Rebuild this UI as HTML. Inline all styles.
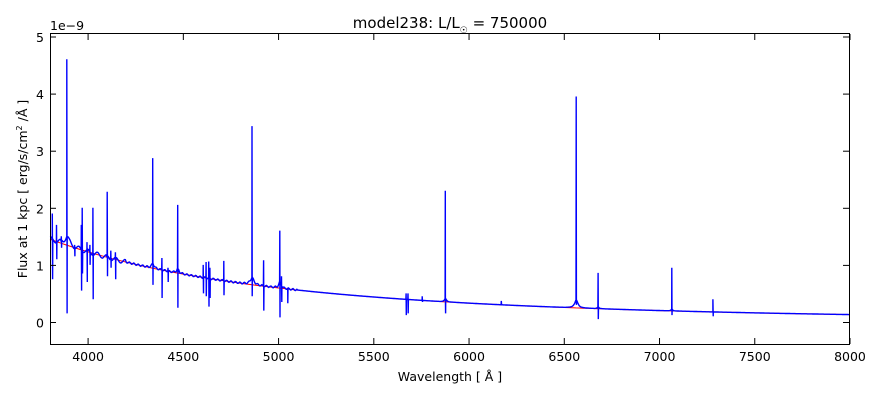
<!DOCTYPE html>
<html><head><meta charset="utf-8"><style>
body{margin:0;background:#fff;}
svg{display:block;font-family:"DejaVu Sans","Liberation Sans",sans-serif;}
</style></head><body>
<svg id="s" width="880" height="400" viewBox="0 0 880 400">
<rect width="880" height="400" fill="#fff"/>
<path id="red" fill="none" stroke="#ff0000" stroke-width="1"/>
<path id="blue" fill="none" stroke="#0000ff" stroke-width="1.4" stroke-linejoin="miter" stroke-miterlimit="2"/>
<rect x="50.5" y="33.5" width="799" height="311" fill="none" stroke="#000" stroke-width="1"/>
<g id="ticks" stroke="#000" stroke-width="1"></g>
<g font-size="12.5" fill="#000" id="labs"></g>
<text x="50" y="30" font-size="12.5">1e−9</text>
<text x="450" y="28" font-size="15" text-anchor="middle">model238: L/L<tspan font-size="9" dy="5">☉</tspan><tspan dy="-5"> = 750000</tspan></text>
<text x="450" y="381" font-size="12.5" text-anchor="middle">Wavelength [ Å ]</text>
<text transform="translate(27,189) rotate(-90)" font-size="12.5" text-anchor="middle">Flux at 1 kpc [ erg/s/cm<tspan font-size="8" dy="-5">2</tspan><tspan dy="5"> /Å ]</tspan></text>
</svg>
<script>
var X=l=>50+(l-3800)*0.190476, Y=f=>322-57.1*f;
function cont(l){return 1.45*Math.pow(3800/l,3.24)}
var ns="http://www.w3.org/2000/svg";
var tk=document.getElementById('ticks'),lb=document.getElementById('labs');
function line(a,b,c,d){var e=document.createElementNS(ns,'line');e.setAttribute('x1',a);e.setAttribute('y1',b);e.setAttribute('x2',c);e.setAttribute('y2',d);tk.appendChild(e);}
function txt(x,y,t,anc){var e=document.createElementNS(ns,'text');e.setAttribute('x',x);e.setAttribute('y',y);e.setAttribute('text-anchor',anc);e.textContent=t;lb.appendChild(e);}
for(var l=4000;l<=8000;l+=500){var x=X(l);line(x,344,x,338);line(x,34,x,40);txt(x,361,l,'middle');}
for(var f=0;f<=5;f++){var y=Y(f)+0.5;line(50,y,56,y);line(849,y,843,y);txt(44,y+5,f,'end');}
var d='';for(var l=3800;l<=8000;l+=20)d+=(l==3800?'M':'L')+X(l).toFixed(1)+','+Y(cont(l)).toFixed(1);
document.getElementById('red').setAttribute('d',d);
var lines=[[3813,1.9,0.75],[3835,1.7,1.1],[3860,1.5,1.3],[3889,4.6,0.15],[3930,1.35,1.15],[3965,1.7,0.55],[3970,2.0,0.85],[3995,1.4,0.7],[4010,1.35,1.0],[4026,2.0,0.4],[4101,2.28,0.8],[4120,1.25,0.95],[4144,1.22,0.75],[4340,2.87,0.65],[4388,1.12,0.42],[4420,0.95,0.7],[4471,2.05,0.25],[4605,1.0,0.5],[4620,1.05,0.45],[4634,1.06,0.27],[4640,0.95,0.42],[4713,1.07,0.47],[4861,3.43,0.45],[4922,1.08,0.2],[5007,1.6,0.08],[5016,0.8,0.35],[5048,0.6,0.33],[5876,2.3,0.15],[5670,0.5,0.12],[5680,0.5,0.15],[6563,3.95,0.3],[6678,0.86,0.05],[7065,0.95,0.12],[7281,0.4,0.1],[6170,0.37,0.3],[5755,0.45,0.35]];
var wings=[[3889,0.15,15],[4861,0.12,12],[6563,0.14,10],[5876,0.06,6],[5007,0.1,8],[4340,0.08,8],[4471,0.07,8],[6678,0.03,5],[7065,0.03,5]];
function W(l){var v=0;wings.forEach(function(w){v+=w[1]/(1+Math.pow((l-w[0])/w[2],2));});return v;}
var pts=[];
for(var l=3800;l<=8000;l+=4){var c=cont(l);var n=(l<4200?0.04*Math.sin(l*1.7):(l<5100?0.015*Math.sin(l*1.3):0));pts.push([l,c+n+W(l)]);}
lines.forEach(function(a){var l=a[0];pts.push([l-1.5,cont(l)+W(l-1.5)],[l-0.7,a[1]],[l+0.7,a[2]],[l+1.5,cont(l)+W(l+1.5)]);});
pts.sort((a,b)=>a[0]-b[0]);
var d2='';pts.forEach(function(p,i){d2+=(i?'L':'M')+X(p[0]).toFixed(1)+','+Y(p[1]).toFixed(1);});
document.getElementById('blue').setAttribute('d',d2);
</script>
</body></html>
